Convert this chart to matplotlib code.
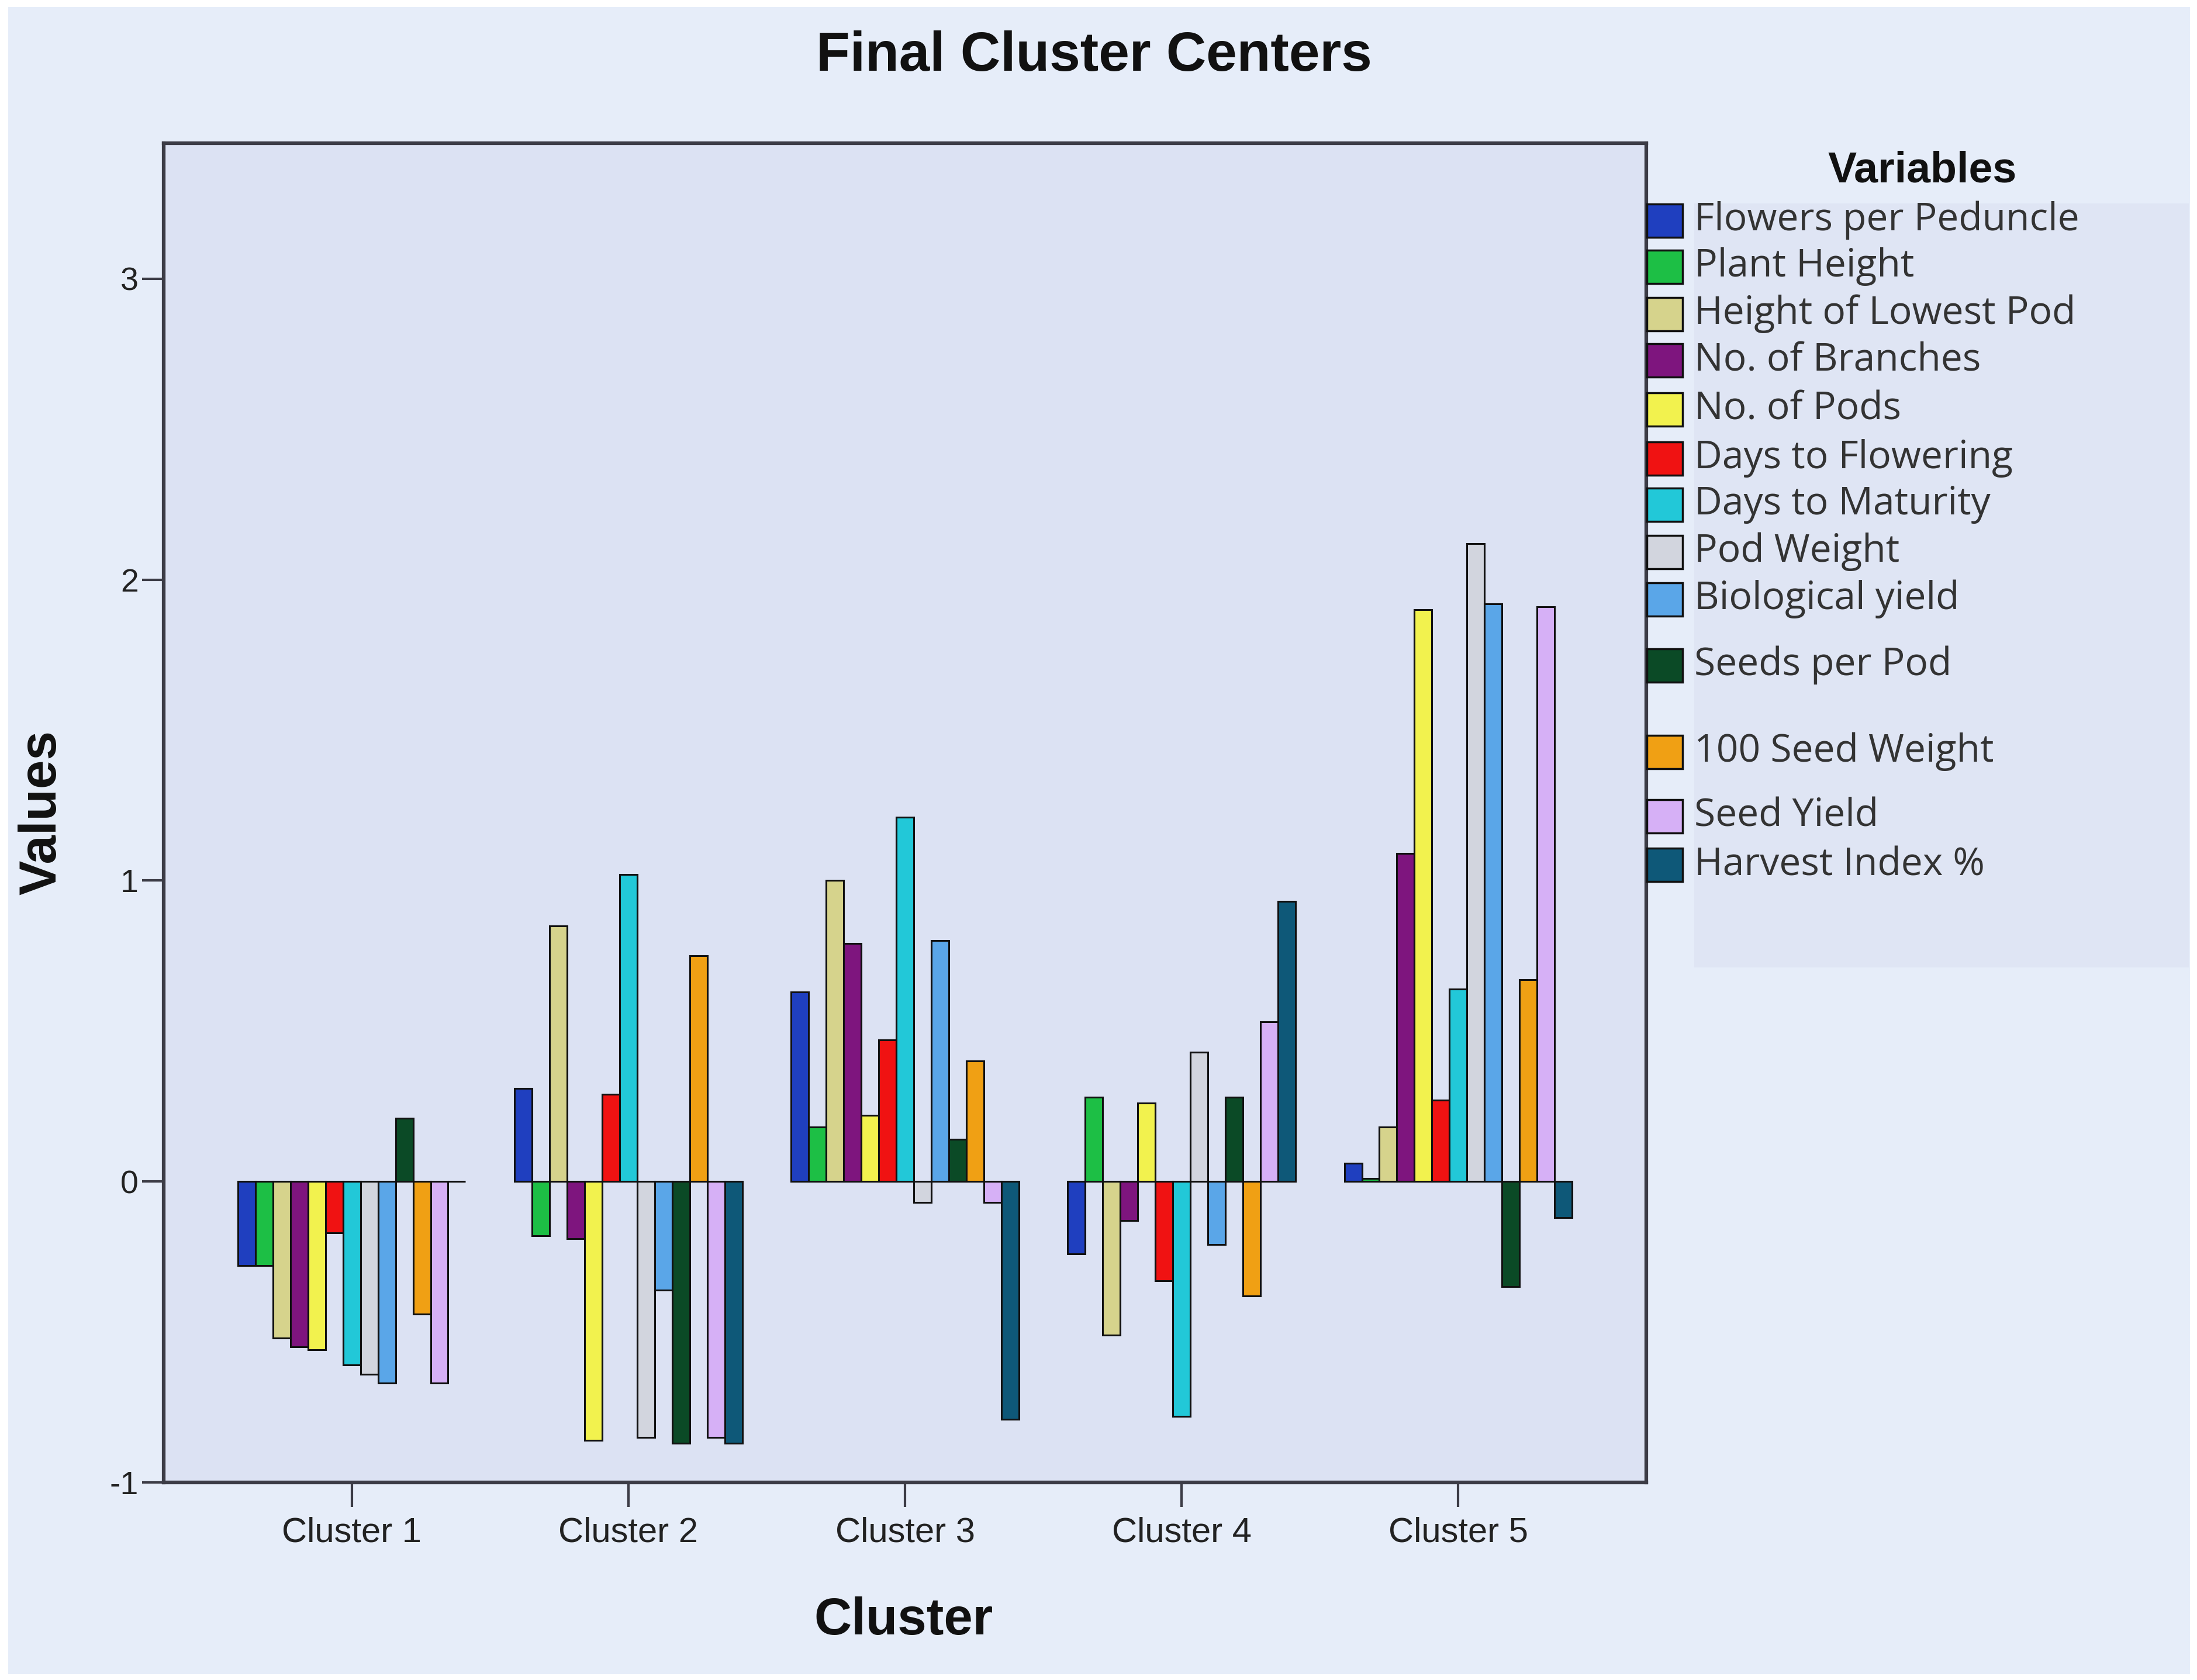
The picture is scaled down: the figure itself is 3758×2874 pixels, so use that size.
import matplotlib
matplotlib.use("Agg")

import numpy as np
import matplotlib.pyplot as plt
from matplotlib.patches import Rectangle
from matplotlib import font_manager

# ==========================================================
# DATA (cluster centres)
# ==========================================================
clusters = ["Cluster 1", "Cluster 2", "Cluster 3", "Cluster 4", "Cluster 5"]

variables = [
    "Flowers per Peduncle", "Plant Height", "Height of Lowest Pod",
    "No. of Branches", "No. of Pods", "Days to Flowering",
    "Days to Maturity", "Pod Weight", "Biological yield",
    "Seeds per Pod", "100 Seed Weight", "Seed Yield", "Harvest Index %",
]

flowers_per_peduncle = [-0.28, 0.31, 0.63, -0.24, 0.06]
plant_height = [-0.28, -0.18, 0.18, 0.28, 0.01]
height_lowest_pod = [-0.52, 0.85, 1.00, -0.51, 0.18]
no_branches = [-0.55, -0.19, 0.79, -0.13, 1.09]
no_pods = [-0.56, -0.86, 0.22, 0.26, 1.90]
days_flowering = [-0.17, 0.29, 0.47, -0.33, 0.27]
days_maturity = [-0.61, 1.02, 1.21, -0.78, 0.64]
pod_weight = [-0.64, -0.85, -0.07, 0.43, 2.12]
biological_yield = [-0.67, -0.36, 0.80, -0.21, 1.92]
seeds_per_pod = [0.21, -0.87, 0.14, 0.28, -0.35]
seed_weight_100 = [-0.44, 0.75, 0.40, -0.38, 0.67]
seed_yield = [-0.67, -0.85, -0.07, 0.53, 1.91]
harvest_index = [0.00, -0.87, -0.79, 0.93, -0.12]

series = [
    flowers_per_peduncle, plant_height, height_lowest_pod, no_branches,
    no_pods, days_flowering, days_maturity, pod_weight, biological_yield,
    seeds_per_pod, seed_weight_100, seed_yield, harvest_index,
]

y_ticks = [-1, 0, 1, 2, 3]

# ==========================================================
# STYLE
# ==========================================================
colors = [
    "#1f3fbf", "#1dbf45", "#d6d38c", "#7e157e", "#f2f24e", "#f01212",
    "#22c8d8", "#d2d5de", "#5aa6e8", "#0b4a26", "#f0a014", "#d6b0f6",
    "#0e5878",
]

fig_bg = "#e6edf9"
plot_bg = "#dce2f3"
spine_col = "#3c3c46"

names = {f.name for f in font_manager.fontManager.ttflist}
tick_font = "Liberation Sans Narrow" if "Liberation Sans Narrow" in names else "Liberation Sans"
legend_font = "Open Sans" if "Open Sans" in names else "DejaVu Sans"

plt.rcParams["font.family"] = ["Liberation Sans", "DejaVu Sans"]

W, H = 3758, 2874
fig = plt.figure(figsize=(W / 100, H / 100), dpi=100, facecolor="white")

# outer panel with thin white border
fig.patches.append(Rectangle((14 / W, 10 / H), 1 - 26 / W, 1 - 22 / H,
                             transform=fig.transFigure, facecolor=fig_bg,
                             edgecolor="none", zorder=-10))

ax = fig.add_axes([280 / W, 1 - 2536 / H, (2816 - 280) / W, (2536 - 245) / H])
ax.set_facecolor(plot_bg)

n_var = len(series)
bar_w = 0.0633
x = np.arange(len(clusters))

for i, (vals, col) in enumerate(zip(series, colors)):
    ax.bar(x + (i - (n_var - 1) / 2) * bar_w, vals, width=bar_w,
           color=col, edgecolor="#111111", linewidth=2.2, zorder=3)

ax.set_xlim(-0.68, len(clusters) - 1 + 0.68)
ax.set_ylim(-1, 3.45)
ax.set_yticks(y_ticks)
ax.set_yticklabels([str(v) for v in y_ticks], fontsize=40, family=tick_font,
                   color="#222222")
ax.set_xticks(x)
ax.set_xticklabels(clusters, fontsize=43, family=tick_font, color="#222222")

ax.tick_params(axis="y", length=27, width=3, color=spine_col, pad=4)
ax.tick_params(axis="x", length=30, width=3, color=spine_col, pad=12)

for sp in ax.spines.values():
    sp.set_color(spine_col)
    sp.set_linewidth(4.5)

ax.set_xlabel("Cluster", fontsize=64, fontweight="bold", color="#111111")
ax.xaxis.set_label_coords(0.499, -0.085)
ax.set_ylabel("Values", fontsize=64, fontweight="bold", color="#111111",
              va="center")
ax.yaxis.set_label_coords(-0.082, 0.5)

fig.text(0.498, 1 - 96 / H, "Final Cluster Centers", ha="center", va="center",
         fontsize=68, fontweight="bold", color="#111111")

# ==========================================================
# LEGEND (hand placed to keep the uneven row spacing)
# ==========================================================
legend_rows_y = [377, 456, 537, 616, 700, 784, 863, 944, 1025, 1138, 1286, 1396, 1480]

fig.patches.append(Rectangle((2898 / W, 1 - 1655 / H), (3744 - 2898) / W,
                             (1655 - 348) / H, transform=fig.transFigure,
                             facecolor="#dfe5f4", edgecolor="none", zorder=-5))

fig.text(3288 / W, 1 - 292 / H, "Variables", ha="center", va="center",
         fontsize=53, fontweight="bold", color="#111111")

pw, ph = 61, 57
for name, col, yc in zip(variables, colors, legend_rows_y):
    fig.patches.append(Rectangle((2817 / W, 1 - (yc + ph / 2) / H), pw / W, ph / H,
                                 transform=fig.transFigure, facecolor=col,
                                 edgecolor="#111111", linewidth=2.5, zorder=5))
    fig.text(2898 / W, 1 - yc / H, name, ha="left", va="center",
             fontsize=47.5, family=legend_font, color="#333333")

fig.savefig("out.png", dpi=100, facecolor=fig.get_facecolor())
plt.close(fig)
